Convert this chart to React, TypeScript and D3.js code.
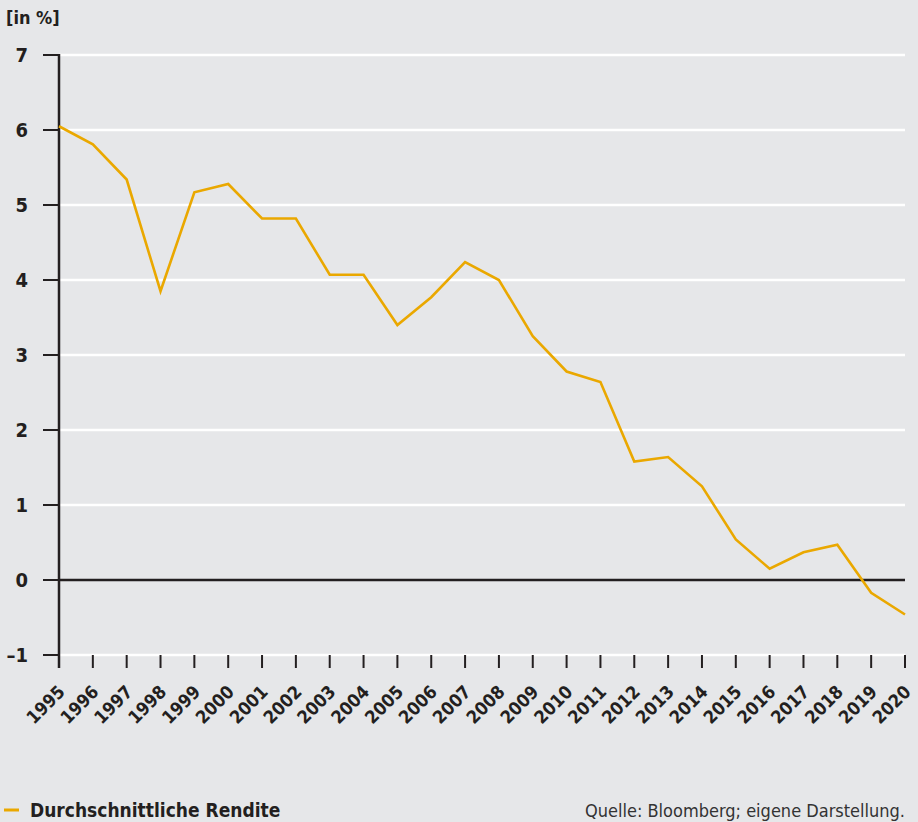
import React from "react";
import * as d3 from "d3";

const years: number[] = [1995, 1996, 1997, 1998, 1999, 2000, 2001, 2002, 2003, 2004, 2005, 2006, 2007, 2008, 2009, 2010, 2011, 2012, 2013, 2014, 2015, 2016, 2017, 2018, 2019, 2020];
const rendite: number[] = [6.05, 5.81, 5.34, 3.85, 5.17, 5.28, 4.82, 4.82, 4.07, 4.07, 3.4, 3.77, 4.24, 4.0, 3.25, 2.78, 2.64, 1.58, 1.64, 1.25, 0.54, 0.15, 0.37, 0.47, -0.17, -0.46];
const yTicks: number[] = [-1, 0, 1, 2, 3, 4, 5, 6, 7];
const seriesName = "Durchschnittliche Rendite";
const unitLabel = "[in %]";
const sourceText = "Quelle:  Bloomberg; eigene Darstellung.";

const W = 918, H = 822;
const left = 59, right = 905, top = 55, bottom = 655;
const BG = "#e6e7e9";
const LINE = "#eaa800";
const DARK = "#231f20";
const FONT = "'DejaVu Sans Condensed', 'Liberation Sans Narrow', sans-serif";

export default function App() {
  const x = d3.scaleLinear().domain([1995, 2020]).range([left, right]);
  const y = d3.scaleLinear().domain([-1, 7]).range([bottom, top]);
  const line = d3.line<number>().x((_, i) => x(years[i])).y((d) => y(d));

  return (
    <svg width={W} height={H} style={{ position: "absolute", left: 0, top: 0, background: BG }} fontFamily={FONT}>
      <rect width={W} height={H} fill={BG} />
      <text x={6} y={24} fontSize={18} fontWeight="bold" fill={DARK}>{unitLabel}</text>
      {yTicks.map((t) => (
        <g key={t}>
          {t !== 0 && <line x1={left} x2={right} y1={y(t)} y2={y(t)} stroke="#ffffff" strokeWidth={2.5} />}
          <line x1={43} x2={left} y1={y(t)} y2={y(t)} stroke={DARK} strokeWidth={2} />
          <text x={28} y={y(t)} dy="0.36em" textAnchor="end" fontSize={20} fontWeight="bold" fill={DARK}>
            {t < 0 ? "\u2013" + Math.abs(t) : String(t)}
          </text>
        </g>
      ))}
      <line x1={left} x2={right} y1={y(0)} y2={y(0)} stroke={DARK} strokeWidth={2.5} />
      <line x1={left} x2={left} y1={top - 1} y2={668} stroke={DARK} strokeWidth={2.5} />
      {years.map((yr) => (
        <g key={yr}>
          <line x1={x(yr)} x2={x(yr)} y1={bottom} y2={668} stroke={DARK} strokeWidth={2} />
          <text
            transform={`translate(${x(yr) + 7},${693}) rotate(-45)`}
            textAnchor="end"
            fontSize={18}
            fontWeight="bold"
            fill={DARK}
          >
            {yr}
          </text>
        </g>
      ))}
      <path d={line(rendite) || ""} fill="none" stroke={LINE} strokeWidth={2.6} strokeLinejoin="miter" />
      <line x1={4} x2={19} y1={810} y2={810} stroke={LINE} strokeWidth={3} />
      <text x={30} y={817} fontSize={19} fontWeight="bold" fill={DARK}>{seriesName}</text>
      <text x={905} y={817} textAnchor="end" fontSize={18} fill="#333333">{sourceText}</text>
    </svg>
  );
}
